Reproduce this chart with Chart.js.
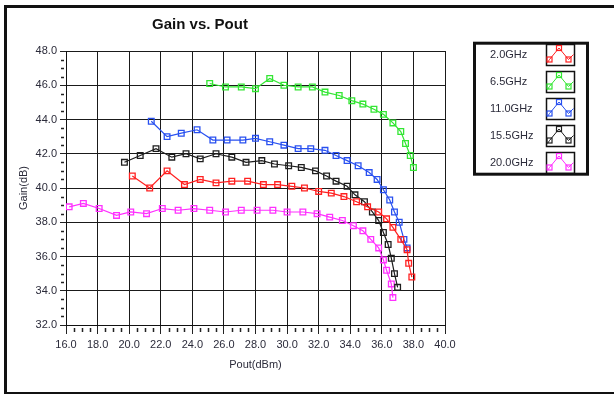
<!DOCTYPE html>
<html>
<head>
<meta charset="utf-8">
<title>Gain vs. Pout</title>
<script src="https://cdn.jsdelivr.net/npm/chart.js@4/dist/chart.umd.min.js"></script>
<style>
  html, body { margin: 0; padding: 0; background: #fff; }
  canvas { display: block; }
</style>
</head>
<body>
<canvas id="gainChart" width="614" height="395"></canvas>
<script>
// Gain vs. output power, one sweep per frequency
const freqLabels = ['2.0GHz', '6.5GHz', '11.0GHz', '15.5GHz', '20.0GHz'];
const freqColors = ['#ff2020', '#33e633', '#2850f0', '#1e1e1e', '#ff30ff'];

const pout2G0 = [20.2, 21.3, 22.4, 23.5, 24.5, 25.5, 26.5, 27.5, 28.5, 29.4, 30.3, 31.1, 32.0, 32.8, 33.6, 34.4, 35.1, 35.8, 36.3, 36.7, 37.2, 37.6, 37.7, 37.9];
const gain2G0 = [40.7, 40.0, 41.0, 40.2, 40.5, 40.3, 40.4, 40.4, 40.2, 40.2, 40.1, 40.0, 39.8, 39.7, 39.5, 39.2, 38.9, 38.6, 38.2, 37.7, 37.0, 36.4, 35.6, 34.8];

const pout6G5 = [25.1, 26.1, 27.1, 28.0, 28.9, 29.8, 30.7, 31.6, 32.4, 33.3, 34.1, 34.8, 35.5, 36.1, 36.7, 37.2, 37.5, 37.8, 38.0];
const gain6G5 = [46.1, 45.9, 45.9, 45.8, 46.4, 46.0, 45.9, 45.9, 45.6, 45.4, 45.1, 44.9, 44.6, 44.3, 43.8, 43.3, 42.6, 41.9, 41.2];

const pout11G0 = [21.4, 22.4, 23.3, 24.3, 25.3, 26.2, 27.2, 28.0, 28.9, 29.8, 30.7, 31.5, 32.4, 33.1, 33.8, 34.5, 35.2, 35.7, 36.1, 36.5, 36.8, 37.1, 37.4, 37.6];
const gain11G0 = [43.9, 43.0, 43.2, 43.4, 42.8, 42.8, 42.8, 42.9, 42.7, 42.5, 42.3, 42.3, 42.2, 41.9, 41.6, 41.3, 40.9, 40.5, 39.9, 39.3, 38.6, 38.0, 37.0, 36.5];

const pout15G5 = [19.7, 20.7, 21.7, 22.7, 23.6, 24.5, 25.5, 26.5, 27.4, 28.4, 29.2, 30.1, 30.9, 31.8, 32.5, 33.1, 33.8, 34.3, 34.9, 35.4, 35.8, 36.1, 36.4, 36.6, 36.8, 37.0];
const gain15G5 = [41.5, 41.9, 42.3, 41.8, 42.0, 41.7, 42.0, 41.8, 41.5, 41.6, 41.4, 41.3, 41.2, 41.0, 40.7, 40.4, 40.1, 39.6, 39.2, 38.6, 38.1, 37.4, 36.7, 35.9, 35.0, 34.2];

const pout20G0 = [16.2, 17.1, 18.1, 19.2, 20.1, 21.1, 22.1, 23.1, 24.1, 25.1, 26.1, 27.1, 28.1, 29.1, 30.0, 31.0, 31.9, 32.7, 33.5, 34.2, 34.8, 35.3, 35.8, 36.1, 36.3, 36.6, 36.7];
const gain20G0 = [38.9, 39.1, 38.8, 38.4, 38.6, 38.5, 38.8, 38.7, 38.8, 38.7, 38.6, 38.7, 38.7, 38.7, 38.6, 38.6, 38.5, 38.3, 38.1, 37.8, 37.5, 37.0, 36.5, 35.8, 35.2, 34.4, 33.6];

// Axis ranges and tick spacing
const xRange = [16, 40];
const yRange = [32, 48];
const majorStep = 2;
const minorStep = 0.5;

const poutSets = [pout2G0, pout6G5, pout11G0, pout15G5, pout20G0];
const gainSets = [gain2G0, gain6G5, gain11G0, gain15G5, gain20G0];

const FONT = '"Liberation Sans", Arial, Helvetica, sans-serif';
const TEXT = '#2b2b3a';

const datasets = freqLabels.map((label, i) => ({
  label,
  data: poutSets[i].map((x, k) => ({ x, y: gainSets[i][k] })),
  showLine: true,
  borderColor: freqColors[i],
  borderWidth: 1.2,
  pointStyle: 'rect',
  pointRadius: 4,
  pointBorderWidth: 1.3,
  pointBorderColor: freqColors[i],
  pointBackgroundColor: 'rgba(255,255,255,0)',
  tension: 0
}));

// White page, heavy black frame and the chart title
const framePlugin = {
  id: 'frame',
  beforeDraw(chart) {
    const ctx = chart.ctx;
    ctx.save();
    ctx.fillStyle = '#fff';
    ctx.fillRect(0, 0, chart.width, chart.height);
    ctx.restore();
  },
  afterDraw(chart) {
    const ctx = chart.ctx;
    ctx.save();
    ctx.strokeStyle = '#111';
    ctx.lineWidth = 3;
    ctx.beginPath();
    ctx.moveTo(5.5, 394);
    ctx.lineTo(5.5, 6.5);
    ctx.lineTo(614, 6.5);
    ctx.stroke();
    ctx.lineWidth = 2;
    ctx.beginPath();
    ctx.moveTo(4, 393);
    ctx.lineTo(614, 393);
    ctx.stroke();

    ctx.fillStyle = '#111';
    ctx.font = 'bold 15px ' + FONT;
    ctx.textAlign = 'center';
    ctx.textBaseline = 'middle';
    ctx.fillText('Gain vs. Pout', 200, 25);
    ctx.restore();
  }
};

// Short minor ticks between the labelled ones
const minorTickPlugin = {
  id: 'minorTicks',
  afterDraw(chart) {
    const { ctx, scales, chartArea } = chart;
    ctx.save();
    ctx.strokeStyle = '#222';
    ctx.lineWidth = 1.5;
    ctx.beginPath();
    for (let v = yRange[0]; v <= yRange[1] + 1e-9; v += minorStep) {
      if (Math.abs(v / majorStep - Math.round(v / majorStep)) < 1e-6) continue;
      const y = Math.round(scales.y.getPixelForValue(v)) + 0.5;
      ctx.moveTo(chartArea.left - 5, y);
      ctx.lineTo(chartArea.left - 2, y);
    }
    for (let v = xRange[0]; v <= xRange[1] + 1e-9; v += minorStep) {
      if (Math.abs(v / majorStep - Math.round(v / majorStep)) < 1e-6) continue;
      const x = Math.round(scales.x.getPixelForValue(v)) + 0.5;
      ctx.moveTo(x, chartArea.bottom + 3);
      ctx.lineTo(x, chartArea.bottom + 7);
    }
    ctx.stroke();
    ctx.restore();
  }
};

// Boxed legend with a small sample trace per frequency
const legendBoxPlugin = {
  id: 'legendBox',
  afterDraw(chart) {
    const ctx = chart.ctx;
    const bx = 474.5, by = 43.2, bw = 113, bh = 131;
    ctx.save();
    ctx.strokeStyle = '#111';
    ctx.lineWidth = 3;
    ctx.strokeRect(bx, by, bw, bh);

    chart.data.datasets.forEach((ds, i) => {
      const top = 44.5 + i * 27;
      const ix = 546.5, iw = 28, ih = 21;
      ctx.fillStyle = TEXT;
      ctx.font = '11px ' + FONT;
      ctx.textAlign = 'left';
      ctx.textBaseline = 'middle';
      ctx.fillText(ds.label, 490, top + 10.5);

      ctx.strokeStyle = '#111';
      ctx.lineWidth = 1.5;
      ctx.strokeRect(ix, top, iw, ih);

      const pts = [[ix + 3, top + 15], [ix + 12.5, top + 3.5], [ix + 22, top + 15]];
      ctx.strokeStyle = ds.borderColor;
      ctx.lineWidth = 1;
      ctx.beginPath();
      ctx.moveTo(ix + 1, top + 18);
      pts.forEach(p => ctx.lineTo(p[0], p[1]));
      ctx.lineTo(ix + 27, top + 10);
      ctx.stroke();
      ctx.lineWidth = 1.2;
      pts.forEach(p => ctx.strokeRect(p[0] - 2.5, p[1] - 2.5, 5, 5));
    });
    ctx.restore();
  }
};

new Chart(document.getElementById('gainChart'), {
  type: 'scatter',
  data: { datasets },
  options: {
    responsive: false,
    animation: false,
    devicePixelRatio: 1,
    layout: { padding: { left: 0, top: 51, right: 169, bottom: 0 } },
    plugins: {
      legend: { display: false },
      title: { display: false },
      tooltip: { enabled: false }
    },
    scales: {
      x: {
        type: 'linear',
        min: xRange[0],
        max: xRange[1],
        afterFit(scale) { scale.height = 70; },
        ticks: {
          stepSize: majorStep,
          autoSkip: false,
          maxRotation: 0,
          padding: 4,
          color: TEXT,
          font: { family: FONT, size: 11 },
          callback: v => Number(v).toFixed(1)
        },
        grid: { color: '#1a1a1a', lineWidth: 1, tickLength: 9, tickColor: '#222', drawTicks: true },
        border: { color: '#111', width: 1 },
        title: {
          display: true,
          text: 'Pout(dBm)',
          color: TEXT,
          font: { family: FONT, size: 11 },
          padding: { top: 0, bottom: 23 }
        }
      },
      y: {
        type: 'linear',
        min: yRange[0],
        max: yRange[1],
        afterFit(scale) { scale.width = 66; },
        ticks: {
          stepSize: majorStep,
          padding: 3,
          color: TEXT,
          font: { family: FONT, size: 11 },
          callback: v => Number(v).toFixed(1)
        },
        grid: { color: '#1a1a1a', lineWidth: 1, tickLength: 6, tickColor: '#222', drawTicks: true },
        border: { color: '#111', width: 1 },
        title: {
          display: true,
          text: 'Gain(dB)',
          color: TEXT,
          font: { family: FONT, size: 11 },
          padding: { top: 17, bottom: 0 }
        }
      }
    }
  },
  plugins: [framePlugin, minorTickPlugin, legendBoxPlugin]
});
</script>
</body>
</html>
